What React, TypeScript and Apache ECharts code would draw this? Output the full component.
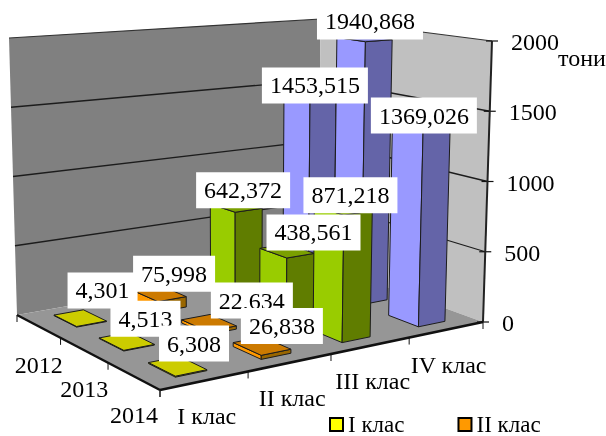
import React, { useEffect, useRef } from "react";
import * as echarts from "echarts";

const classes = ["I клас", "II клас", "III клас", "IV клас"];
const years = ["2012", "2013", "2014"];
const valuesI = [4.301, 4.513, 6.308];
const valuesII = [75.998, 22.634, 26.838];
const valuesIII = [642.372, 438.561, 871.218];
const valuesIV = [1453.515, 1940.868, 1369.026];
const yTicks = [0, 500, 1000, 1500, 2000];
const legendNames = ["I клас", "II клас"];
const unitLabel = "тони";

const allValues = [valuesI, valuesII, valuesIII, valuesIV];

// Layout of the oblique view (floor corners, wall heights) and look of the chart
const FLOOR = { p00: [160, 390], p10: [483, 322], p11: [318, 262], p01: [17, 315] };
const HEIGHTS = { h00: 316, h10: 281, h01: 277, h11: 243 };
const VANISH = { x: 238, dist: 7650 };
const HALF_U = 0.045;
const HALF_V = 0.085;
const FONT = '24px "Liberation Serif"';
const FACES = [
  { left: "#e6e600", right: "#999900", top: "#cccc00", legend: "#ffff00" },
  { left: "#ff9900", right: "#996600", top: "#cc7a00", legend: "#ff9900" },
  { left: "#99cc00", right: "#607d00", top: "#7a9f00", legend: "#99cc00" },
  { left: "#9999ff", right: "#6464a8", top: "#7a7ad0", legend: "#9999ff" },
];
// label centre relative to top of its bar: [class][year]
const LABEL_SHIFT = [
  [[22.5, -27.6], [18.8, -22.3], [16.5, -22.5]],
  [[14, -20], [43, -22.3], [20, -19.9]],
  [[7, -16], [26.5, -18.4], [7.3, -13]],
  [[5, -7.6], [5.6, -17.1], [2.8, -11.8]],
];

function makeProjector() {
  const { p00, p10, p11, p01 } = FLOOR;
  const dx1 = p10[0] - p11[0], dx2 = p01[0] - p11[0], sx = p00[0] - p10[0] + p11[0] - p01[0];
  const dy1 = p10[1] - p11[1], dy2 = p01[1] - p11[1], sy = p00[1] - p10[1] + p11[1] - p01[1];
  const den = dx1 * dy2 - dx2 * dy1;
  const g = (sx * dy2 - dx2 * sy) / den;
  const h = (dx1 * sy - sx * dy1) / den;
  const a = p10[0] - p00[0] + g * p10[0], b = p01[0] - p00[0] + h * p01[0];
  const d = p10[1] - p00[1] + g * p10[1], e = p01[1] - p00[1] + h * p01[1];
  return (u: number, v: number, w: number) => {
    const q = 1 + g * u + h * v;
    const x0 = (a * u + b * v + p00[0]) / q;
    const y0 = (d * u + e * v + p00[1]) / q;
    const H =
      (1 - u) * (1 - v) * HEIGHTS.h00 + u * (1 - v) * HEIGHTS.h10 +
      (1 - u) * v * HEIGHTS.h01 + u * v * HEIGHTS.h11;
    const lift = H * w;
    return [x0 + ((x0 - VANISH.x) * lift) / VANISH.dist, y0 - lift];
  };
}
const P = makeProjector();

const rowV = (yearIdx: number) => 1 - (yearIdx + 0.5) / years.length;

function toUnit(api: any, params: any, cls: number, val: number) {
  const pt = api.coord([cls, val]);
  const c = params.coordSys;
  return { u: (pt[0] - c.x) / c.width, w: (c.y + c.height - pt[1]) / c.height };
}

const poly = (points: number[][], fill: string, stroke = "#1c1c1c", lineWidth = 1) => ({
  type: "polygon",
  shape: { points },
  style: { fill, stroke, lineWidth },
});
const seg = (a: number[], b: number[], stroke: string, lineWidth: number) => ({
  type: "line",
  shape: { x1: a[0], y1: a[1], x2: b[0], y2: b[1] },
  style: { stroke, lineWidth, fill: "none" },
});
const txt = (x: number, y: number, text: string, align: string) => ({
  type: "text",
  x,
  y,
  style: { text, x: 0, y: 0, font: FONT, fill: "#000", align, verticalAlign: "middle" },
});

function renderFrame(_: any, api: any) {
  const children: any[] = [];
  children.push(poly([P(0, 1, 0), P(1, 1, 0), P(1, 1, 1), P(0, 1, 1)], "#808080", "#808080", 0));
  children.push(poly([P(1, 1, 0), P(1, 0, 0), P(1, 0, 1), P(1, 1, 1)], "#c0c0c0", "#c0c0c0", 0));
  children.push(poly([P(0, 0, 0), P(1, 0, 0), P(1, 1, 0), P(0, 1, 0)], "#969696", "#969696", 0));
  children.push(seg(P(0, 1, 1), P(1, 1, 1), "#333", 1.2));
  children.push(seg(P(1, 1, 1), P(1, 0, 1), "#333", 1.2));

  yTicks.forEach((t) => {
    const w = t / yTicks[yTicks.length - 1];
    if (t > 0 && t < yTicks[yTicks.length - 1]) {
      children.push(seg(P(0, 1, w), P(1, 1, w), "#1c1c1c", 1.3));
      children.push(seg(P(1, 1, w), P(1, 0, w), "#1c1c1c", 1.3));
    }
    const p = P(1, 0, w);
    children.push(seg([p[0] - 6, p[1]], [p[0] + 6, p[1]], "#111", 1.2));
    children.push(txt(p[0] + 19, p[1] + 1, String(t), "left"));
  });
  children.push(seg(P(1, 0, 0), P(1, 0, 1), "#222", 2));
  children.push(seg(P(0, 0, 0), P(1, 0, 0), "#111", 2.5));
  children.push(seg(P(0, 0, 0), P(0, 1, 0), "#111", 2.5));

  for (let i = 0; i <= classes.length; i++) {
    const p = P(i / classes.length, 0, 0);
    children.push(seg(p, [p[0], p[1] + 7], "#111", 1));
  }
  for (let i = 0; i <= years.length; i++) {
    const p = P(0, i / years.length, 0);
    children.push(seg(p, [p[0], p[1] + 7], "#111", 1));
  }
  classes.forEach((name, i) => {
    const p = P((i + 0.5) / classes.length, 0, 0);
    children.push(txt(p[0] + 2, p[1] + 35, name, "center"));
  });
  years.forEach((name, i) => {
    const p = P(0, rowV(i), 0);
    children.push(txt(p[0] + 0.5, p[1] + 39, name, "center"));
  });
  const top = P(1, 0, 1);
  children.push(txt(top[0] + 66, top[1] + 17, unitLabel, "left"));
  return { type: "group", children };
}

function renderBar(params: any, api: any) {
  const cls = api.value(0);
  const { u, w } = toUnit(api, params, cls, api.value(1));
  const v = rowV(api.value(2));
  const f = FACES[cls];
  const u0 = u - HALF_U, u1 = u + HALF_U, v0 = v - HALF_V, v1 = v + HALF_V;
  return {
    type: "group",
    children: [
      poly([P(u0, v0, 0), P(u0, v1, 0), P(u0, v1, w), P(u0, v0, w)], f.left),
      poly([P(u0, v0, 0), P(u1, v0, 0), P(u1, v0, w), P(u0, v0, w)], f.right),
      poly([P(u0, v0, w), P(u1, v0, w), P(u1, v1, w), P(u0, v1, w)], f.top),
    ],
  };
}

function renderLabel(params: any, api: any) {
  const cls = api.value(0);
  const val = api.value(1);
  const yr = api.value(2);
  const { u, w } = toUnit(api, params, cls, val);
  const p = P(u, rowV(yr), w);
  const s = LABEL_SHIFT[cls][yr];
  return {
    type: "text",
    x: p[0] + s[0],
    y: p[1] + s[1],
    style: {
      text: val.toFixed(3).replace(".", ","),
      x: 0,
      y: 0,
      font: FONT,
      fill: "#000",
      align: "center",
      verticalAlign: "middle",
      backgroundColor: "#fff",
      padding: [6, 8, 6, 8],
    },
  };
}

export default function App() {
  const ref = useRef<HTMLDivElement>(null);
  useEffect(() => {
    document.body.style.margin = "0";
    const chart = echarts.init(ref.current!, null, { renderer: "svg" });
    const barSeries = classes
      .map((name, c) => ({
        type: "custom",
        name,
        renderItem: renderBar,
        clip: false,
        silent: true,
        z: 3,
        itemStyle: { color: FACES[c].legend },
        encode: { x: 0, y: 1 },
        data: allValues[c].map((val, y) => [c, val, y]),
      }))
      .reverse();
    const labelData: number[][] = [];
    allValues.forEach((vals, c) => vals.forEach((val, y) => labelData.push([c, val, y])));
    chart.setOption({
      animation: false,
      backgroundColor: "#fff",
      grid: { left: 0, right: 0, top: 0, bottom: 0 },
      xAxis: { type: "category", data: classes, show: false },
      yAxis: { type: "value", min: 0, max: yTicks[yTicks.length - 1], interval: 500, show: false },
      legend: {
        left: 329,
        top: 413,
        itemWidth: 13,
        itemHeight: 13,
        itemGap: 53,
        padding: 0,
        selectedMode: false,
        textStyle: { fontFamily: "Liberation Serif", fontSize: 23, lineHeight: 20, color: "#000" },
        data: legendNames.map((name, i) => ({
          name,
          icon: "rect",
          itemStyle: { color: FACES[i].legend, borderColor: "#000", borderWidth: 2 },
        })),
      },
      series: [
        {
          type: "custom",
          name: "frame",
          renderItem: renderFrame,
          clip: false,
          silent: true,
          z: 1,
          encode: { x: 0, y: 1 },
          data: [[0, 0]],
        },
        ...barSeries,
        {
          type: "custom",
          name: "labels",
          renderItem: renderLabel,
          clip: false,
          silent: true,
          z: 5,
          encode: { x: 0, y: 1 },
          data: labelData,
        },
      ],
    });
    return () => chart.dispose();
  }, []);
  return <div ref={ref} style={{ width: 606, height: 436, filter: "blur(0.5px)" }} />;
}
